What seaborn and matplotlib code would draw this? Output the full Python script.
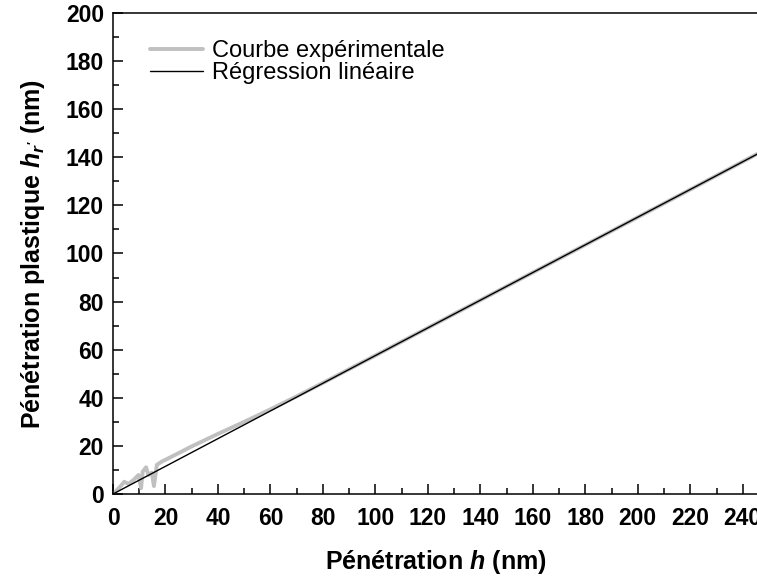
import numpy as np
import pandas as pd
import matplotlib
matplotlib.use('Agg')
import matplotlib.pyplot as plt
import seaborn as sns

exp_h = [0, 2.7, 4.3, 5.9, 7.8, 9.7, 10.7, 11.3, 12.6, 13.5, 14.8, 15.6, 16.7, 18.6, 20.5,
         30, 40, 50, 60, 70, 80, 90, 100, 120, 140, 160, 180, 200, 220, 246]
exp_hr = [0, 3.0, 5.1, 4.2, 5.8, 7.9, 2.4, 9.3, 11.1, 7.9, 8.9, 3.3, 12.1, 13.5, 14.5,
          19.8, 25.0, 30.0, 35.2, 40.6, 46.2, 51.9, 57.6, 69.1, 80.6, 92.1, 103.6, 115.1, 126.6, 141.7]

# linear regression
reg_h = [0, 246]
reg_hr = [0, 141.6]

sns.set_style('ticks')
plt.rcParams['font.family'] = ['Liberation Sans', 'DejaVu Sans']
plt.rcParams['mathtext.fontset'] = 'custom'
plt.rcParams['mathtext.rm'] = 'Liberation Sans:bold'
plt.rcParams['mathtext.it'] = 'Liberation Sans:bold:italic'
for k in ['text.color', 'axes.labelcolor', 'xtick.color', 'ytick.color', 'axes.edgecolor']:
    plt.rcParams[k] = 'black'

fig = plt.figure(figsize=(7.57, 5.78), dpi=100)
ax = fig.add_axes([113 / 757, 1 - 494 / 578, 1 - 113 / 757 + 0.002, (494 - 13) / 578])

df_exp = pd.DataFrame({'h': exp_h, 'hr': exp_hr})
df_reg = pd.DataFrame({'h': reg_h, 'hr': reg_hr})
sns.lineplot(data=df_exp, x='h', y='hr', ax=ax, color='#c0c0c0', lw=2.8,
             label='Courbe expérimentale', sort=False)
sns.lineplot(data=df_reg, x='h', y='hr', ax=ax, color='black', lw=1.0,
             label='Régression linéaire')

ax.set_xlim(0, 246)
ax.set_ylim(0, 200)
ax.set_xticks(np.arange(0, 241, 20))
ax.set_yticks(np.arange(0, 201, 20))
ax.set_xticks(np.arange(10, 246, 20), minor=True)
ax.set_yticks(np.arange(10, 200, 20), minor=True)
ax.tick_params(which='major', direction='in', length=7, width=1.1, labelsize=16.5)
ax.tick_params(which='minor', direction='in', length=4, width=1.1)
ax.tick_params(axis='x', which='major', pad=9.5)
ax.tick_params(axis='y', which='major', pad=6.5)
for lbl in ax.get_xticklabels() + ax.get_yticklabels():
    lbl.set_fontweight('bold')
for s in ax.spines.values():
    s.set_linewidth(1.1)
ax.spines['right'].set_visible(False)

ax.set_xlabel(r'Pénétration $h$ (nm)', fontsize=18, fontweight='bold', labelpad=13)
ax.set_ylabel(r"Pénétration plastique $h_{r'}$ (nm)", fontsize=18, fontweight='bold', labelpad=13.5)

leg = ax.legend(loc='upper left', bbox_to_anchor=(0.024, 0.988), frameon=False,
                fontsize=17, handlelength=2.25, handletextpad=0.38, labelspacing=0.0,
                borderpad=0.4)

fig.savefig('out.png', dpi=100)
